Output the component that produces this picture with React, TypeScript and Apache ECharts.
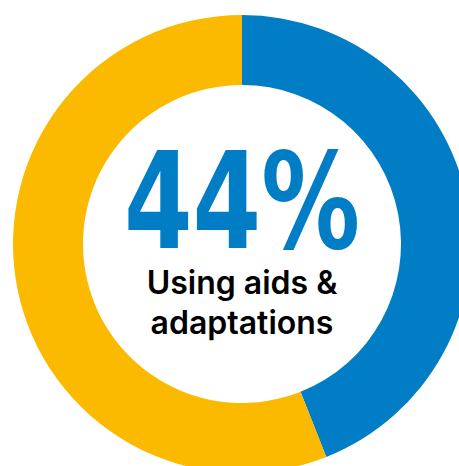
import React, { useEffect, useRef } from "react";
import * as echarts from "echarts";

const categories = ["Using aids & adaptations", "Not using aids & adaptations"];
const values = [44, 56];
const colors = ["#007DC5", "#FBB900"];
const headline = `${values[0]}%`;
const subtitleLines = ["Using aids &", "adaptations"];

export default function App() {
  const ref = useRef<HTMLDivElement>(null);
  useEffect(() => {
    if (!ref.current) return;
    const chart = echarts.init(ref.current, undefined, { renderer: "svg" });
    chart.setOption({
      animation: false,
      backgroundColor: "#ffffff",
      series: [
        {
          type: "pie",
          center: [242, 244],
          radius: [159, 229],
          startAngle: 90,
          clockwise: true,
          label: { show: false },
          labelLine: { show: false },
          emphasis: { disabled: true },
          itemStyle: { borderWidth: 0 },
          data: categories.map((name, i) => ({
            name,
            value: values[i],
            itemStyle: { color: colors[i] },
          })),
        },
      ],
      graphic: [
        {
          type: "text",
          x: 242,
          y: 201,
          scaleX: 0.87,
          scaleY: 1.065,
          style: {
            text: headline,
            fill: "#007DC5",
            font: "bold 126px 'DejaVu Sans Condensed', 'DejaVu Sans', sans-serif",
            textAlign: "center",
            textVerticalAlign: "middle",
          },
        },
        {
          type: "text",
          x: 242,
          y: 282,
          style: {
            text: subtitleLines[0],
            fill: "#000000",
            font: "600 32px Inter, 'Noto Sans', sans-serif",
            textAlign: "center",
            textVerticalAlign: "middle",
          },
        },
        {
          type: "text",
          x: 242,
          y: 322,
          style: {
            text: subtitleLines[1],
            fill: "#000000",
            font: "600 32px Inter, 'Noto Sans', sans-serif",
            textAlign: "center",
            textVerticalAlign: "middle",
          },
        },
      ],
    });
    return () => chart.dispose();
  }, []);
  return (
    <div
      ref={ref}
      style={{ position: "fixed", left: 0, top: 0, width: 459, height: 466 }}
    />
  );
}
